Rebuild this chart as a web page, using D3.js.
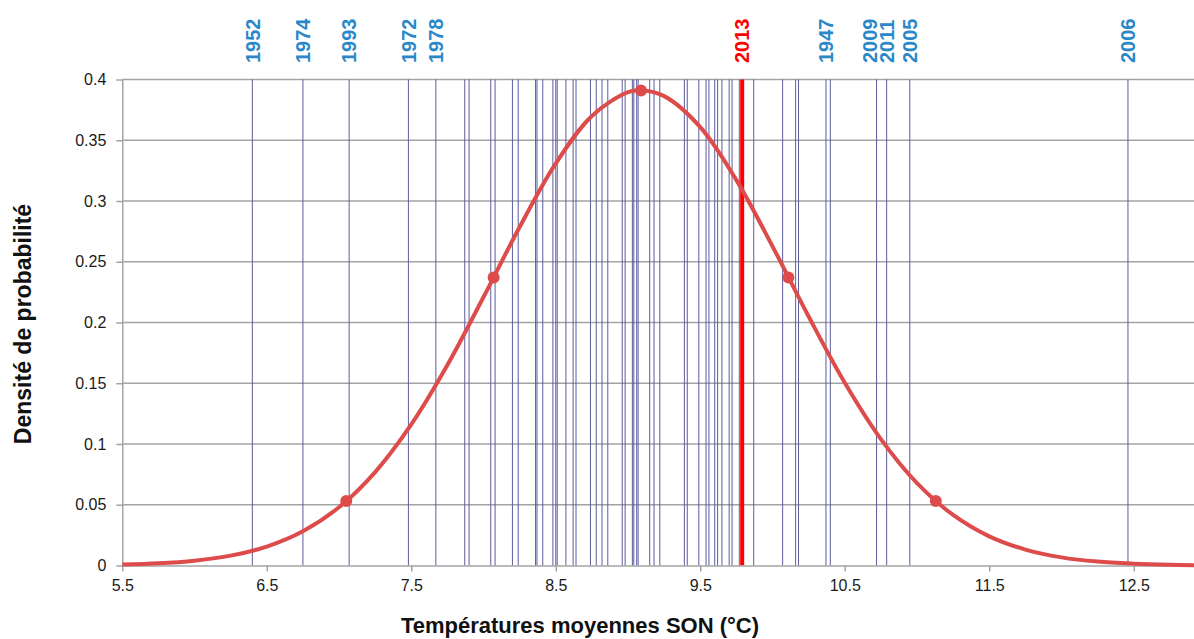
<!DOCTYPE html>
<html>
<head>
<meta charset="utf-8">
<script src="https://cdn.jsdelivr.net/npm/d3@7"></script>
<style>
  html, body { margin: 0; padding: 0; background: #ffffff; }
  svg { display: block; }
  text { font-family: "Liberation Sans", Arial, sans-serif; }
</style>
</head>
<body>
<svg id="chart" width="1194" height="639"></svg>
<script>
// ---------------- data ----------------
const xTickValues = [5.5, 6.5, 7.5, 8.5, 9.5, 10.5, 11.5, 12.5];
const yTickValues = [0, 0.05, 0.1, 0.15, 0.2, 0.25, 0.3, 0.35, 0.4];
const yTickLabels = ["0", "0.05", "0.1", "0.15", "0.2", "0.25", "0.3", "0.35", "0.4"];

// labelled autumn (SON) mean temperatures
const labeledYears = ["1952", "1974", "1993", "1972", "1978", "2013", "1947", "2009", "2011", "2005", "2006"];
const labeledTemps = [6.40, 6.75, 7.07, 7.48, 7.67, 9.79, 10.37, 10.72, 10.79, 10.95, 12.46];
const highlightYear = "2013";

// other years (unlabelled vertical lines)
const otherTemps = [
  7.87, 7.90, 8.05, 8.08, 8.20, 8.24, 8.36, 8.37, 8.41, 8.48, 8.50, 8.51,
  8.57, 8.62, 8.64, 8.74, 8.78, 8.82, 8.86, 8.96, 8.98, 9.03, 9.04, 9.06, 9.07,
  9.15, 9.18, 9.22, 9.39, 9.41, 9.49, 9.54, 9.56, 9.60, 9.62, 9.65, 9.70, 9.72, 9.77,
  9.87, 10.07, 10.16, 10.18, 10.40
];

// fitted probability density curve
const curveTemps = [5.5, 5.75, 6.0, 6.25, 6.5, 6.75, 7.0, 7.25, 7.5, 7.75, 8.0, 8.25, 8.5, 8.75,
  9.0, 9.09, 9.25, 9.5, 9.75, 10.0, 10.25, 10.5, 10.75, 11.0, 11.25, 11.5, 11.75, 12.0, 12.25, 12.5, 12.75, 12.92];
const curveDensity = [0.0008, 0.0018, 0.0040, 0.0081, 0.0156, 0.0282, 0.0479, 0.0769, 0.1161, 0.1650, 0.2210, 0.2786, 0.3309, 0.3700,
  0.3896, 0.3911, 0.3863, 0.3608, 0.3172, 0.2627, 0.2049, 0.1504, 0.1040, 0.0678, 0.0416, 0.0240, 0.0131, 0.0067, 0.0032, 0.0015, 0.0006, 0.0003];

// markers at mean, ±1 sd, ±2 sd
const markerTemps = [7.05, 8.07, 9.09, 10.11, 11.13];
const markerDensity = [0.053, 0.237, 0.391, 0.237, 0.053];

const xTitle = "Températures moyennes SON (°C)";
const yTitle = "Densité de probabilité";

// ---------------- drawing ----------------
const svg = d3.select("#chart");
const plotL = 122.3, plotR = 1194, plotT = 79.5, plotB = 565.5;

const x = d3.scaleLinear().domain([5.5, 12.917]).range([plotL, plotR]);
const y = d3.scaleLinear().domain([0, 0.4]).range([plotB, plotT]);

const gridColor = "#a3a3a3";
const lineColor = "#5c5c9e";
const blue = "#2a88c9";
const red = "#ff0000";
const curveColor = "#dd4b4b";

// horizontal gridlines
svg.append("g").selectAll("line")
  .data(yTickValues.filter(v => v > 0))
  .join("line")
  .attr("x1", plotL).attr("x2", plotR)
  .attr("y1", d => y(d)).attr("y2", d => y(d))
  .attr("stroke", gridColor).attr("stroke-width", 1.5);

// year lines (blue)
const allBlue = otherTemps.concat(labeledTemps.filter((t, i) => labeledYears[i] !== highlightYear));
svg.append("g").selectAll("line")
  .data(allBlue)
  .join("line")
  .attr("x1", d => x(d)).attr("x2", d => x(d))
  .attr("y1", plotT).attr("y2", plotB)
  .attr("stroke", lineColor).attr("stroke-width", 1);

// highlight line (red)
const hlTemp = labeledTemps[labeledYears.indexOf(highlightYear)];
svg.append("line")
  .attr("x1", x(hlTemp)).attr("x2", x(hlTemp))
  .attr("y1", plotT).attr("y2", plotB)
  .attr("stroke", red).attr("stroke-width", 4);

// x axis
const xAxis = d3.axisBottom(x).tickValues(xTickValues).tickSize(6).tickSizeOuter(0)
  .tickFormat(d3.format(".1f"));
const gx = svg.append("g").attr("transform", `translate(0,${plotB})`).call(xAxis);
gx.select(".domain").attr("stroke", gridColor).attr("stroke-width", 1.5);
gx.selectAll(".tick line").attr("stroke", gridColor).attr("stroke-width", 1.5);
gx.selectAll(".tick text").attr("fill", "#1a1a1a").attr("font-size", 16)
  .attr("font-family", "Liberation Sans, Arial, sans-serif").attr("dy", "1.05em");

// y axis
const yAxis = d3.axisLeft(y).tickValues(yTickValues).tickSize(6).tickSizeOuter(0)
  .tickFormat((d, i) => yTickLabels[i]);
const gy = svg.append("g").attr("transform", `translate(${plotL},0)`).call(yAxis);
gy.select(".domain").attr("stroke", gridColor).attr("stroke-width", 1.5);
gy.selectAll(".tick line").attr("stroke", gridColor).attr("stroke-width", 1.5);
gy.selectAll(".tick text").attr("fill", "#1a1a1a").attr("font-size", 16)
  .attr("font-family", "Liberation Sans, Arial, sans-serif").attr("x", -16);

// density curve
const line = d3.line().x(d => x(d[0])).y(d => y(d[1])).curve(d3.curveCatmullRom);
svg.append("path")
  .datum(curveTemps.map((t, i) => [t, curveDensity[i]]))
  .attr("d", line)
  .attr("fill", "none").attr("stroke", curveColor).attr("stroke-width", 4)
  .attr("stroke-linejoin", "round");

svg.append("g").selectAll("circle")
  .data(markerTemps.map((t, i) => [t, markerDensity[i]]))
  .join("circle")
  .attr("cx", d => x(d[0])).attr("cy", d => y(d[1])).attr("r", 6)
  .attr("fill", curveColor);

// year labels at the top, dodged so they do not overlap
const labels = labeledYears.map((yr, i) => ({ yr, t: labeledTemps[i], cx: x(labeledTemps[i]) }))
  .sort((a, b) => a.cx - b.cx);
const minGap = 17;
for (let i = labels.length - 2; i >= 0; i--) {
  if (labels[i + 1].cx - labels[i].cx < minGap) labels[i].cx = labels[i + 1].cx - minGap;
}
svg.append("g").selectAll("text")
  .data(labels)
  .join("text")
  .attr("transform", d => `translate(${d.cx},63) rotate(-90)`)
  .attr("dy", "0.36em")
  .attr("text-anchor", "start")
  .attr("font-size", 20).attr("font-weight", "bold")
  .attr("fill", d => d.yr === highlightYear ? red : blue)
  .text(d => d.yr);

// axis titles
svg.append("text")
  .attr("x", 580).attr("y", 633)
  .attr("text-anchor", "middle")
  .attr("font-size", 22).attr("font-weight", "bold").attr("fill", "#111")
  .text(xTitle);

svg.append("text")
  .attr("transform", "translate(31,324) rotate(-90)")
  .attr("text-anchor", "middle")
  .attr("font-size", 23).attr("font-weight", "bold").attr("fill", "#111")
  .text(yTitle);
</script>
</body>
</html>
